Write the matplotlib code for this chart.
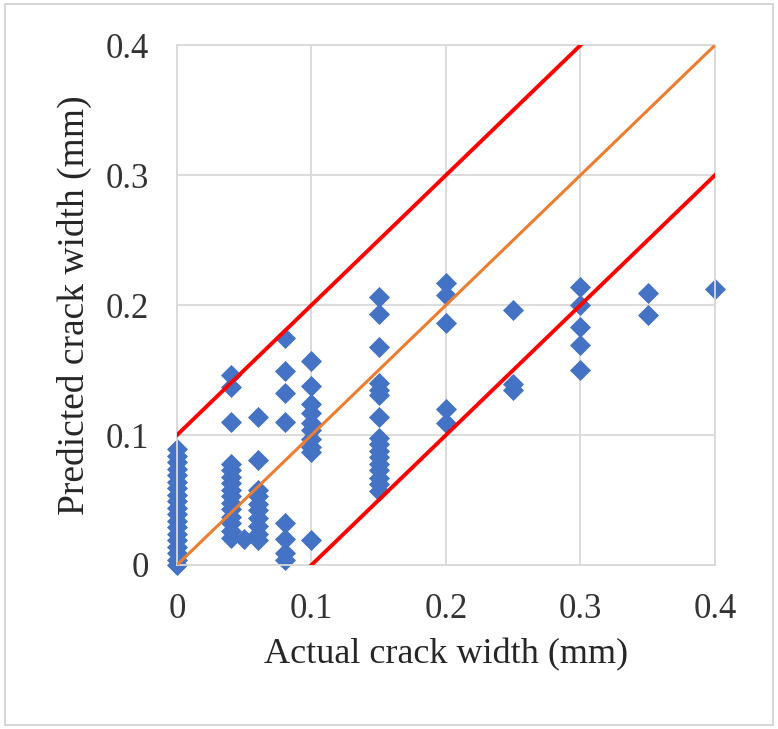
import matplotlib
matplotlib.use("Agg")
import matplotlib.pyplot as plt
from matplotlib.patches import Rectangle

# actual crack width (mm) and predicted crack width (mm)
actual = ([0.0] * 19
          + [0.04] * 15
          + [0.05]
          + [0.06] * 10
          + [0.08] * 8
          + [0.1] * 10
          + [0.15] * 16
          + [0.2] * 5
          + [0.25] * 3
          + [0.3] * 5
          + [0.35] * 2
          + [0.4])
predicted = ([0.0, 0.004, 0.009, 0.014, 0.019, 0.024, 0.029, 0.034, 0.039, 0.044,
              0.049, 0.054, 0.059, 0.064, 0.069, 0.074, 0.079, 0.084, 0.089]
             + [0.146, 0.137, 0.110, 0.078, 0.073, 0.068, 0.063, 0.058, 0.053, 0.048,
                0.043, 0.037, 0.032, 0.026, 0.021]
             + [0.020]
             + [0.114, 0.081, 0.058, 0.053, 0.047, 0.042, 0.036, 0.030, 0.024, 0.019]
             + [0.175, 0.149, 0.132, 0.110, 0.032, 0.020, 0.009, 0.004]
             + [0.157, 0.138, 0.124, 0.117, 0.109, 0.104, 0.097, 0.091, 0.087, 0.019]
             + [0.206, 0.193, 0.168, 0.140, 0.135, 0.131, 0.114, 0.098, 0.093, 0.088,
                0.083, 0.078, 0.073, 0.067, 0.062, 0.057]
             + [0.217, 0.208, 0.186, 0.120, 0.109]
             + [0.196, 0.139, 0.135]
             + [0.214, 0.200, 0.183, 0.169, 0.150]
             + [0.209, 0.192]
             + [0.212])

line_x = [0.0, 0.4]
upper_x = [0.0, 0.3]
lower_x = [0.1, 0.4]
ticks = [0, 0.1, 0.2, 0.3, 0.4]
tick_labels = ["0", "0.1", "0.2", "0.3", "0.4"]

plt.rcParams['font.family'] = ['Liberation Serif', 'DejaVu Serif']

fig = plt.figure(figsize=(7.78, 7.29), dpi=100)
ax = fig.add_axes([0.2275, 0.225, 0.6915, 0.713])

ax.plot(upper_x, [v + 0.1 for v in upper_x], color='#FF0000', lw=2.8, zorder=3)
ax.plot(line_x, line_x, color='#ED7D31', lw=2.2, zorder=3)
ax.plot(lower_x, [v - 0.1 for v in lower_x], color='#FF0000', lw=2.8, zorder=3)
ax.scatter(actual, predicted, marker='D', s=115, color='#4472C4', lw=0,
           zorder=2, clip_on=False)

ax.set_xlim(0, 0.4)
ax.set_ylim(0, 0.4)
ax.set_xticks(ticks)
ax.set_xticklabels(tick_labels)
ax.set_yticks(ticks)
ax.set_yticklabels(tick_labels)
ax.tick_params(length=0, labelsize=25, colors='#333333', pad=20)
ax.grid(True, color='#D9D9D9', lw=1.3)
ax.set_axisbelow(True)
for s in ax.spines.values():
    s.set_color('#D9D9D9')
    s.set_linewidth(1.3)

ax.set_xlabel("Actual crack width (mm)", fontsize=26, color='#262626', labelpad=9)
ax.set_ylabel("Predicted crack width (mm)", fontsize=27, color='#262626', labelpad=10)

fig.patches.append(Rectangle((0.006, 0.006), 0.988, 0.988, transform=fig.transFigure,
                             fill=False, edgecolor='#D0D0D0', lw=1.2))

fig.savefig("out.png", dpi=100)
